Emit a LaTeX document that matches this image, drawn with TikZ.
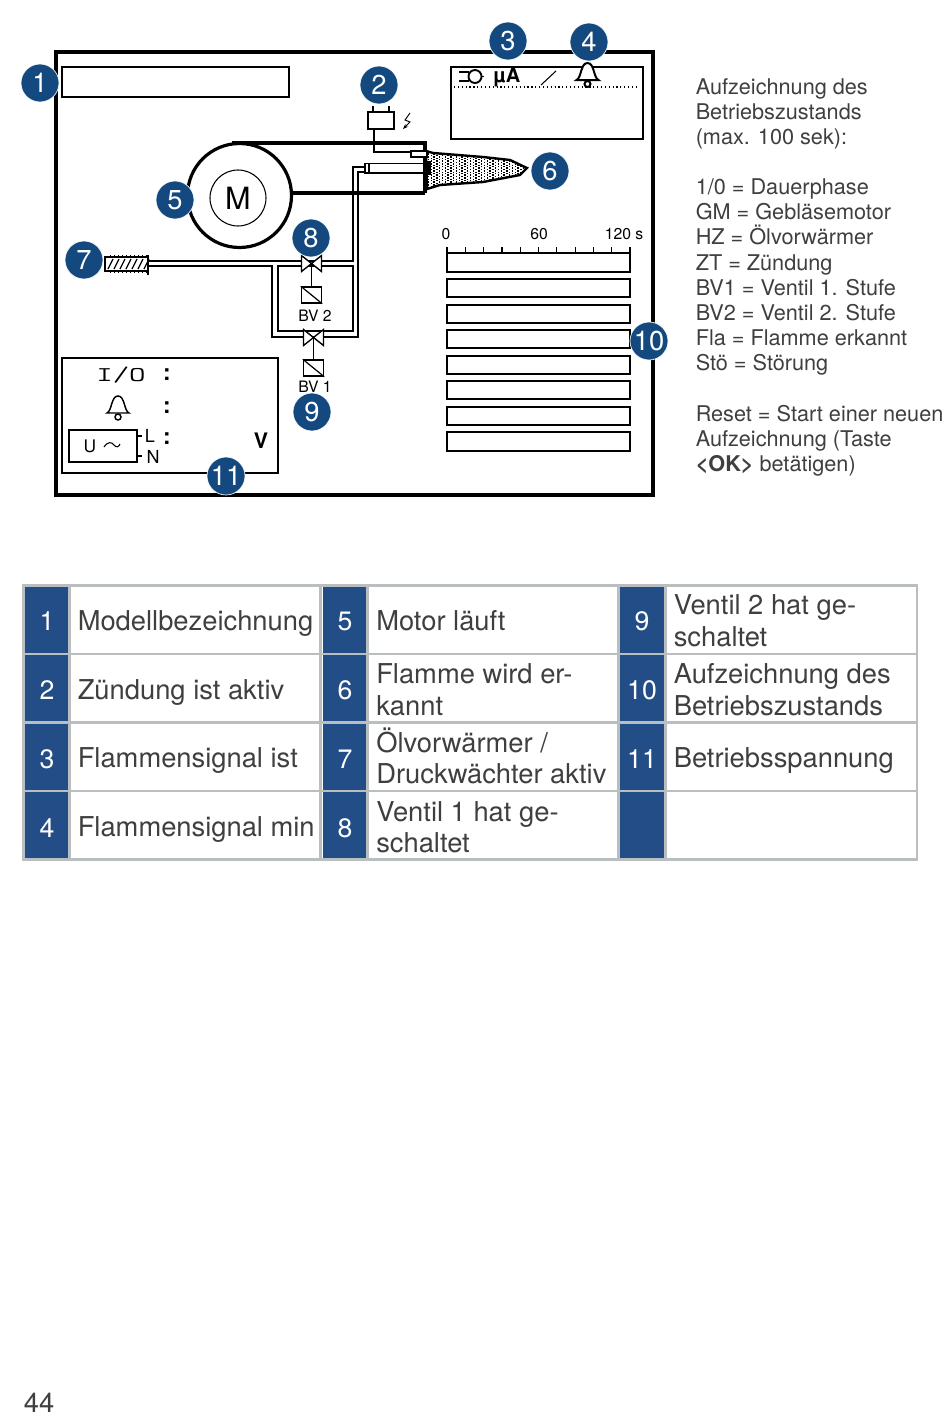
\documentclass[tikz,border=0pt]{standalone}
\usepackage{fontspec}
\setmainfont{TeX Gyre Heros}
\setsansfont{TeX Gyre Heros}
\usetikzlibrary{arrows.meta}
\definecolor{navy}{HTML}{14497F}
\definecolor{cellblue}{HTML}{234D86}
\definecolor{rulegrey}{HTML}{B9BEC1}
\definecolor{bodytext}{HTML}{3F3F3F}
\tikzset{
  badge/.style={circle,fill=navy,draw=white,line width=0.5pt,minimum size=28.5pt,inner sep=0pt,text=white,font=\fontsize{20.5}{20.5}\selectfont},
  bar/.style={draw=black,line width=1.7pt,fill=white},
  screen/.style={draw=black,line width=1.7pt,fill=white},
  thin line/.style={draw=black,line width=0.9pt},
  pipe/.style={draw=black,line width=1.5pt},
  side/.style={anchor=north west,align=left,inner sep=0pt,text=bodytext,font=\fontsize{16.25}{18.9}\selectfont},
  cell/.style={anchor=west,align=left,inner sep=0pt,text=bodytext,font=\fontsize{20.5}{23.6}\selectfont},
  numcell/.style={text=white,inner sep=0pt,font=\fontsize{20}{20}\selectfont},
  pix/.style={inner sep=0pt,font=\fontsize{11.8}{11.8}\selectfont},
  pixcolon/.style={inner sep=0pt,font=\fontsize{17}{17}\bfseries},
  pixtt/.style={inner sep=0pt,font=\fontsize{15}{15}\ttfamily},
  valve/.style={draw=black,line width=1pt,fill=white},
}
\newcommand{\bellicon}[3]{%
  \draw[line width=#3,fill=white] (#1-11,#2+5) .. controls (#1-6,#2+3) and (#1-7,#2-12) .. (#1,#2-12) .. controls (#1+7,#2-12) and (#1+6,#2+3) .. (#1+11,#2+5) -- cycle;
  \draw[line width=#3,fill=white] (#1,#2+9) circle (3);
}
\newcommand{\valveicon}[2]{%
  \draw[valve] (#1-10,#2-8) -- (#1,#2) -- (#1+10,#2-8) -- (#1+10,#2+8) -- (#1,#2) -- (#1-10,#2+8) -- cycle;
}
\begin{document}
\begin{tikzpicture}[x=0.75pt,y=-0.75pt]
\useasboundingbox (0,0) rectangle (950,1424);
\fill[white] (0,0) rectangle (950,1424);
% frame
\draw[line width=2.3pt] (56,52) rectangle (653,495);
\draw[screen] (62,67) rectangle (289,97);
% signal box
\draw[screen] (451,67) rectangle (643,139);
\draw[line width=0.9pt,dotted] (454,87) -- (638,87);
\draw[line width=1.4pt] (459,72) -- (469,72) (459,81) -- (469,81);
\draw[line width=1.4pt,fill=white] (475,76.5) circle (6.5);
\draw[line width=1.4pt] (481,76.5) -- (484,76.5);
\node[pix,font=\fontsize{15}{15}\bfseries] (ua) at (507,77) {µA};
\draw[line width=0.8pt] (541,85) -- (556,71);
\bellicon{587.5}{75}{1.5pt}
% burner
\draw[line width=2.6pt] (232,143) -- (425,143) -- (425,193);
\draw[line width=3.4pt] (292,193) -- (425,193);
\draw[line width=1.8pt,fill=white] (426,151) -- (433,153) -- (483,157) -- (510,160) -- (527,168) -- (520,175) -- (483,182) -- (440,185) -- (427,189) -- cycle;
\begin{scope}
\clip (426,151) -- (433,153) -- (483,157) -- (510,160) -- (527,168) -- (520,175) -- (483,182) -- (440,185) -- (427,189) -- cycle;
\foreach \i in {0,...,36} \foreach \j in {0,...,14}
  \fill ({425+\i*2.8},{152+\j*2.8+mod(\i,2)*1.4}) rectangle +(1.3,1.3);
\end{scope}
\draw[line width=1.4pt,fill=white] (365,163.5) rectangle (424,173);
\draw[line width=0.8pt] (369,163.5) -- (369,173);
\fill (424,161) rectangle (431,175);
% motor
\node[circle,draw=black,line width=2.4pt,fill=white,minimum size=78pt,inner sep=0pt] (motor) at (239.5,195.5) {};
\node[circle,draw=black,line width=0.8pt,minimum size=42pt,inner sep=0pt,font=\fontsize{23}{23}\selectfont] (m) at (238,198) {M};
% ignition
\node[draw=black,line width=1.1pt,fill=white,minimum width=19.5pt,minimum height=12.8pt,inner sep=0pt] (ign) at (381,120.5) {};
\coordinate (e1) at (411,152);
\draw[thin line] (373,112) -- (373,106) (389,112) -- (389,106);
\draw[thin line] (374,129) -- (374,152) -- (e1);
\draw[line width=1pt,fill=white] (411,151) rectangle (427,157);
\draw[line width=0.7pt,-{Stealth[length=4pt]}] (410,113) -- (405,120) -- (410,122) -- (403,129);
% oil pipes
\draw[pipe] (148,261) -- (352.5,261) -- (352.5,167) -- (365,167);
\draw[pipe] (148,266) -- (272,266) -- (272,337) -- (358,337) -- (358,172) -- (365,172);
\draw[pipe] (278,266) rectangle (352.5,331);
% preheater
\draw[line width=1.1pt,fill=white] (105,257) rectangle (148,271);
\foreach \hx in {108,114,120,126,132,138,144} \draw[line width=0.9pt] (\hx,269) -- (\hx+5,259);
\draw[line width=1pt,dotted] (110,256) -- (148,256) (110,272) -- (148,272);
\draw[line width=1pt] (148,255) -- (148,275);
% valves
\draw[thin line] (311.5,263) -- (311.5,287);
\valveicon{311.5}{263.5}
\node[draw=black,line width=1.1pt,fill=white,minimum width=15pt,minimum height=12pt,inner sep=0pt] (sol2) at (311.5,295) {};
\draw[line width=0.9pt] (sol2.north west) -- (sol2.south east);
\node[pix] (bv2) at (315,316) {BV 2};
\draw[thin line] (313.5,337) -- (313.5,360);
\valveicon{313.5}{337.5}
\node[draw=black,line width=1.1pt,fill=white,minimum width=15pt,minimum height=12pt,inner sep=0pt] (sol1) at (313.5,368) {};
\draw[line width=0.9pt] (sol1.north west) -- (sol1.south east);
\node[pix] (bv1) at (315,387) {BV 1};
% supply box
\draw[screen,line width=1.2pt] (62,358) rectangle (278,473);
\node[pixtt] (io) at (121,375) {\scalebox{1.6}[1.05]{I/O}};
\node[pixcolon] (c1) at (167,375) {:};
\bellicon{118}{408}{1.1pt}
\node[pixcolon] (c2) at (167,408) {:};
\node[draw=black,line width=1.1pt,fill=white,minimum width=51pt,minimum height=24pt,inner sep=0pt] (ubox) at (103,446) {};
\node[pix,font=\fontsize{13}{13}\selectfont] (u) at (90,446) {U};
\draw[line width=0.8pt] (104,447) .. controls (108,441) and (112,442) .. (114,445) .. controls (116,448) and (119,447) .. (120,444);
\draw[line width=1pt] (137,436) -- (142,436) (137,456) -- (142,456);
\node[pix,font=\fontsize{13.5}{13.5}\selectfont] (l) at (150,436) {L};
\node[pix,font=\fontsize{13.5}{13.5}\selectfont] (n) at (153,457) {N};
\node[pixcolon] (c3) at (167,439) {:};
\node[pix,font=\fontsize{16}{16}\bfseries] (v) at (261,441) {V};
% scale
\node[pix] (s0) at (446,234) {0};
\node[pix] (s60) at (539,234) {60};
\node[pix] (s120) at (624,234) {120 s};
\foreach \ya/\yb in {253/272,279/297,305/323,330/348,356/374,381/399,407/425,432/451}
  \draw[bar] (447,\ya) rectangle (630,\yb);
\fill[white] (446,251.5) rectangle (631,254.5);
\draw[line width=0.8pt] (447,253) -- (630,253);
\draw[line width=1.2pt] (447,253) -- (447,260) (630,253) -- (630,260);
\foreach \k in {0,...,10} \draw[line width=0.9pt] ({447+18.3*\k},247) -- ({447+18.3*\k},253);
% badges
\node[badge] (b1) at (40,83) {1};
\node[badge] (b2) at (379,85) {2};
\node[badge] (b3) at (508,41) {3};
\node[badge] (b4) at (589,42) {4};
\node[badge] (b5) at (175,200) {5};
\node[badge] (b6) at (550,171) {6};
\node[badge] (b7) at (84,260) {7};
\node[badge] (b8) at (311,238) {8};
\node[badge] (b9) at (312,412) {9};
\node[badge] (b10) at (649,341) {10};
\node[badge] (b11) at (226,476) {11};
% side text
\node[side] (t1) at (695.5,78) {Aufzeichnung des\\Betriebszustands\\(max. 100 sek):};
\node[side] (t2) at (695.5,178.5) {1/0 = Dauerphase\\GM = Gebläsemotor\\HZ = Ölvorwärmer\\ZT = Zündung\\BV1 = Ventil 1. Stufe\\BV2 = Ventil 2. Stufe\\Fla = Flamme erkannt\\Stö = Störung};
\node[side] (t3) at (695.5,405) {Reset = Start einer neuen\\Aufzeichnung (Taste\\\textbf{<OK>} betätigen)};
% table
\foreach \cx/\cw in {25/43,323/43,620/44}
  \fill[cellblue] (\cx,585) rectangle (\cx+\cw,860);
\draw[rulegrey,line width=2.2pt] (23,585.5) rectangle (917,859.5);
\foreach \ry in {654,722.5,791} \draw[rulegrey,line width=2.2pt] (23,\ry) -- (917,\ry);
\foreach \vx in {24,69.5,320.5,367.5,618.5,665.5} \draw[rulegrey,line width=2.2pt] (\vx,585.5) -- (\vx,859.5);
\node[numcell] (n1) at (47,621) {1};
\node[numcell] (n2) at (47,690) {2};
\node[numcell] (n3) at (47,759) {3};
\node[numcell] (n4) at (47,828) {4};
\node[numcell] (n5) at (345,621) {5};
\node[numcell] (n6) at (345,690) {6};
\node[numcell] (n7) at (345,759) {7};
\node[numcell] (n8) at (345,828) {8};
\node[numcell] (n9) at (642,621) {9};
\node[numcell] (n10) at (642,690) {10};
\node[numcell] (n11) at (642,759) {11};
\node[cell] (c11) at (77.5,623.5) {Modellbezeichnung};
\node[cell] (c12) at (77.5,692.5) {Zündung ist aktiv};
\node[cell] (c13) at (77.5,761) {Flammensignal ist};
\node[cell] (c14) at (77.5,830) {Flammensignal min};
\node[cell] (c21) at (376,620.5) {Motor läuft};
\node[cell] (c22) at (376,689.5) {Flamme wird er-\\kannt};
\node[cell] (c23) at (376,756) {Ölvorwärmer /\\Druckwächter aktiv};
\node[cell] (c24) at (376,827) {Ventil 1 hat ge-\\schaltet};
\node[cell] (c31) at (673.5,620.5) {Ventil 2 hat ge-\\schaltet};
\node[cell] (c32) at (673.5,689.5) {Aufzeichnung des\\Betriebszustands};
\node[cell] (c33) at (673.5,761) {Betriebsspannung};
\node[inner sep=0pt,text=bodytext,font=\fontsize{20.5}{20.5}\selectfont] (page) at (39,1403) {44};
\end{tikzpicture}
\end{document}
